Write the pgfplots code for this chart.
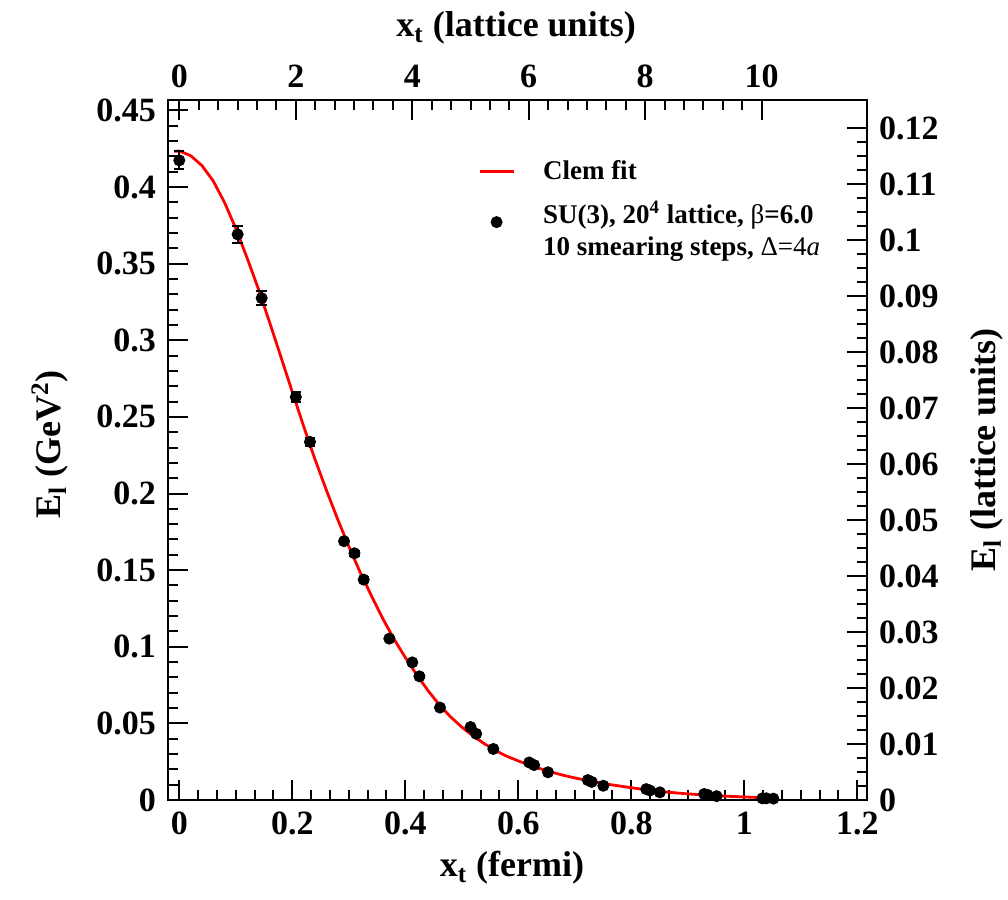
\documentclass[border=0pt]{standalone}
\usepackage{fontspec}
\setmainfont{Liberation Serif}
\usepackage{pgfplots}
\pgfplotsset{compat=1.18}
\usepackage{pgfplotstable}

% measured points, x in fermi, E_l in GeV^2
\pgfplotstableread{
x       y       err
0.0000  0.4174  0.0059
0.1033  0.3691  0.0054
0.1458  0.3275  0.0046
0.2062  0.2630  0.0030
0.2313  0.2337  0.0028
0.2916  0.1689  0.0015
0.3100  0.1610  0.0015
0.3264  0.1438  0.0015
0.3717  0.1053  0.0010
0.4124  0.0898  0.0010
0.4250  0.0807  0.0010
0.4614  0.0603  0.0008
0.5155  0.0476  0.0008
0.5255  0.0432  0.0008
0.5558  0.0333  0.0006
0.6193  0.0245  0.0006
0.6280  0.0228  0.0006
0.6526  0.0181  0.0005
0.7230  0.0130  0.0005
0.7300  0.0118  0.0005
0.7505  0.0093  0.0004
0.8265  0.0071  0.0004
0.8330  0.0062  0.0004
0.8505  0.0050  0.0004
0.9290  0.0039  0.0003
0.9345  0.0034  0.0003
0.9510  0.0025  0.0003
1.0320  0.0011  0.0003
1.0390  0.0011  0.0003
1.0515  0.0009  0.0003
}\latt

% Clem fit
\pgfplotstableread{
x       y
-0.0094 0.4233
0.000   0.4235
0.020   0.4205
0.040   0.4140
0.060   0.4040
0.080   0.3900
0.100   0.3730
0.120   0.3537
0.140   0.3335
0.160   0.3115
0.180   0.2890
0.200   0.2663
0.220   0.2440
0.240   0.2225
0.260   0.2025
0.280   0.1835
0.300   0.1655
0.320   0.1487
0.340   0.1333
0.360   0.1185
0.380   0.1050
0.400   0.0930
0.420   0.0818
0.440   0.0715
0.460   0.0622
0.480   0.0543
0.500   0.0476
0.520   0.0418
0.540   0.0367
0.560   0.0322
0.580   0.0285
0.600   0.0255
0.620   0.0227
0.640   0.0203
0.660   0.0181
0.680   0.0161
0.700   0.0144
0.720   0.0129
0.740   0.0115
0.760   0.0102
0.780   0.0091
0.800   0.0080
0.820   0.0070
0.840   0.0061
0.860   0.0053
0.880   0.0046
0.900   0.0040
0.920   0.0035
0.940   0.0030
0.960   0.0026
0.980   0.0023
1.000   0.0020
1.020   0.0017
1.040   0.0015
1.055   0.0014
}\clem

\newcommand{\labfont}{\fontsize{18}{18}\selectfont\bfseries}

\pgfplotsset{
  gracebox/.style={
    at={(0,0)}, anchor=south west,
    width=349.5pt, height=350pt, scale only axis,
    major tick length=10pt, minor tick length=5pt,
    tick style={line width=1pt, black},
    axis line style={line width=1.2pt},
    scaled ticks=false,
    /pgf/number format/.cd, fixed, precision=2, assume math mode=true,
    /pgfplots/.cd,
    ticklabel shift=2.5pt,
    ticklabel style={font=\fontsize{17}{17}\selectfont\bfseries},
  }
}

\begin{document}
\begin{tikzpicture}
\begin{axis}[gracebox,
  xmin=-0.02, xmax=1.2172, ymin=0, ymax=0.4568,
  xtick={0,0.2,0.4,0.6,0.8,1,1.2},
  ytick={0,0.05,0.1,0.15,0.2,0.25,0.3,0.35,0.4,0.45},
  minor x tick num=5, minor y tick num=4,
  xtick pos=left, ytick pos=left,
  xlabel={x\textsubscript{t} (fermi)},
  ylabel={E\textsubscript{l} (GeV\textsuperscript{2})},
  every axis x label/.style={at={(axis description cs:0.492,-0.11)}, anchor=base, font=\labfont},
  every axis y label/.style={at={(axis description cs:-0.169,0.508)}, rotate=90, anchor=center, font=\labfont},
  legend style={at={(0.4345,0.925)}, anchor=north west, draw=none, fill=none,
    font=\fontsize{13.5}{16}\selectfont\bfseries, row sep=5pt,
    /tikz/every odd column/.append style={column sep=12pt}},
  legend cell align=left,
]
\addplot[red, line width=1.4pt] table[x=x, y=y] {\clem};
\addlegendentry{Clem fit}
\addplot[only marks, mark=*, mark size=2.8pt, black,
  error bars/.cd, y dir=both, y explicit,
  error bar style={line width=1pt},
  error mark options={rotate=90, mark size=2.6pt, line width=1pt}]
  table[x=x, y=y, y error=err] {\latt};
\addlegendentry{\begin{tabular}{@{}l@{}}SU(3), 20\textsuperscript{4} lattice, {\mdseries β}=6.0\\10 smearing steps, {\mdseries Δ=4\textit{a}}\end{tabular}}
\end{axis}
\begin{axis}[gracebox,
  xmin=-0.194, xmax=11.808, ymin=0, ymax=0.125,
  xtick={0,2,4,6,8,10},
  ytick={0,0.01,0.02,0.03,0.04,0.05,0.06,0.07,0.08,0.09,0.1,0.11,0.12},
  minor x tick num=5, minor y tick num=3,
  xtick pos=right, ytick pos=right,
  xticklabel pos=right, yticklabel pos=right,
  xlabel={x\textsubscript{t} (lattice units)},
  ylabel={E\textsubscript{l} (lattice units)},
  every axis x label/.style={at={(axis description cs:0.498,1.09)}, anchor=base, font=\labfont},
  every axis y label/.style={at={(axis description cs:1.171,0.5)}, rotate=90, anchor=center, font=\labfont},
]
\end{axis}
\pgfresetboundingbox
\path[use as bounding box] (-84pt,-50pt) rectangle (420pt,400pt);
\end{tikzpicture}
\end{document}
